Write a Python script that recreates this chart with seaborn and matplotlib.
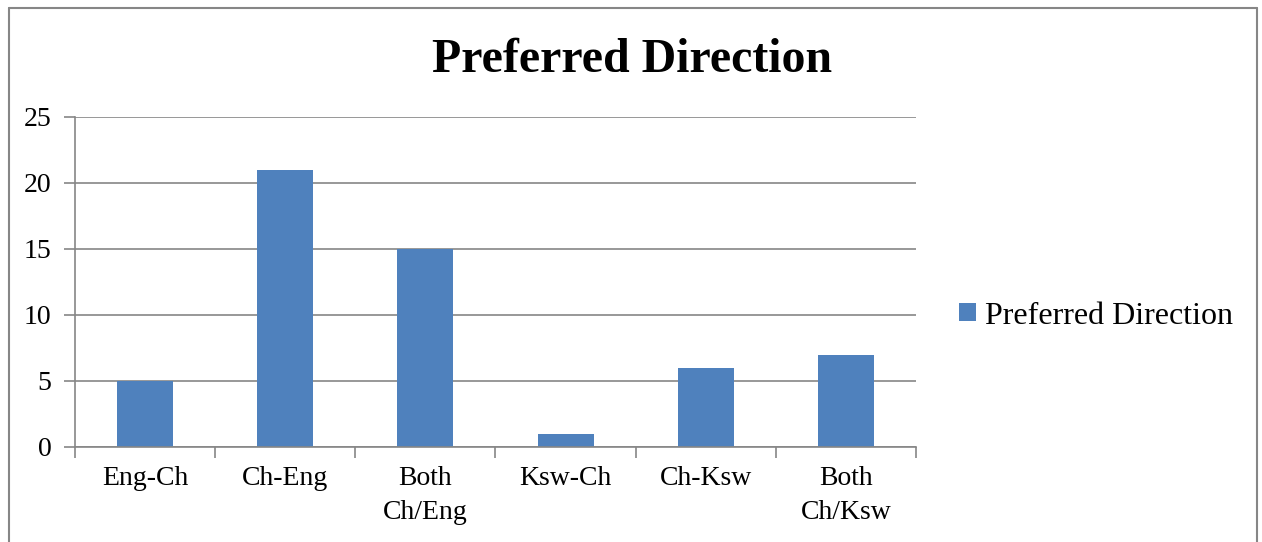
import matplotlib
matplotlib.use("Agg")
import matplotlib.pyplot as plt
import seaborn as sns
import pandas as pd
from matplotlib.lines import Line2D
from matplotlib.patches import Patch

categories = ["Eng-Ch", "Ch-Eng", "Both\nCh/Eng", "Ksw-Ch", "Ch-Ksw", "Both\nCh/Ksw"]
values = [5, 21, 15, 1, 6, 7]
series_name = "Preferred Direction"
y_ticks = [0, 5, 10, 15, 20, 25]

sns.set_style("white")
plt.rcParams["font.family"] = ["Liberation Serif", "DejaVu Serif"]
plt.rcParams["text.color"] = "black"
plt.rcParams["xtick.color"] = "black"
plt.rcParams["ytick.color"] = "black"

W, H = 1262, 542
fig = plt.figure(figsize=(W / 100, H / 100), dpi=100)
ax = fig.add_axes([75 / W, 1 - 447 / H, (916 - 75) / W, (447 - 117) / H])

df = pd.DataFrame({"cat": categories, "val": values, "series": series_name})
sns.barplot(data=df, x="cat", y="val", hue="series", palette=["#4F81BD"],
            width=0.4, ax=ax, legend=False, saturation=1, linewidth=0)

ax.set_xlim(-0.5, len(categories) - 0.5)
ax.set_ylim(0, 25)
ax.set_yticks(y_ticks)
ax.yaxis.grid(True, color="#868686", linewidth=1.2)
ax.set_axisbelow(True)
ax.set_xlabel("")
ax.set_ylabel("")
for s in ["top", "right"]:
    ax.spines[s].set_visible(False)
for s in ["left", "bottom"]:
    ax.spines[s].set_color("#868686")
    ax.spines[s].set_linewidth(1.2)

ax.tick_params(axis="y", which="both", length=8, width=1.2, color="#868686",
               labelcolor="black", labelsize=20, pad=9, left=True)
ax.set_xticks(range(len(categories)))
ax.set_xticklabels(categories, fontsize=20, linespacing=1.45)
ax.tick_params(axis="x", which="major", length=0, pad=14, bottom=True, labelcolor="black")
ax.set_xticks([i - 0.5 for i in range(len(categories) + 1)], minor=True)
ax.tick_params(axis="x", which="minor", length=8, width=1.2, color="#868686", bottom=True)

fig.text(632 / W, 1 - 60 / H, "Preferred Direction", ha="center", va="center",
         fontsize=34.5, fontweight="bold", color="black")

handles = [Patch(facecolor="#4F81BD", edgecolor="none", label=series_name)]
fig.legend(handles=handles, loc="center left", bbox_to_anchor=(959 / W, 1 - 316 / H),
           frameon=False, fontsize=23, handlelength=0.52, handleheight=0.52,
           handletextpad=0.3, borderaxespad=0, borderpad=0, labelcolor="black")

# chart frame (left, top, right edges visible)
frame_color = "#868686"
fig.add_artist(Line2D([8.5 / W, 8.5 / W], [0, 1 - 8 / H], color=frame_color, lw=1.5, transform=fig.transFigure))
fig.add_artist(Line2D([8.5 / W, 1256.5 / W], [1 - 8 / H, 1 - 8 / H], color=frame_color, lw=1.5, transform=fig.transFigure))
fig.add_artist(Line2D([1256.5 / W, 1256.5 / W], [0, 1 - 8 / H], color=frame_color, lw=1.5, transform=fig.transFigure))

fig.savefig("out.png", dpi=100, facecolor="white")
